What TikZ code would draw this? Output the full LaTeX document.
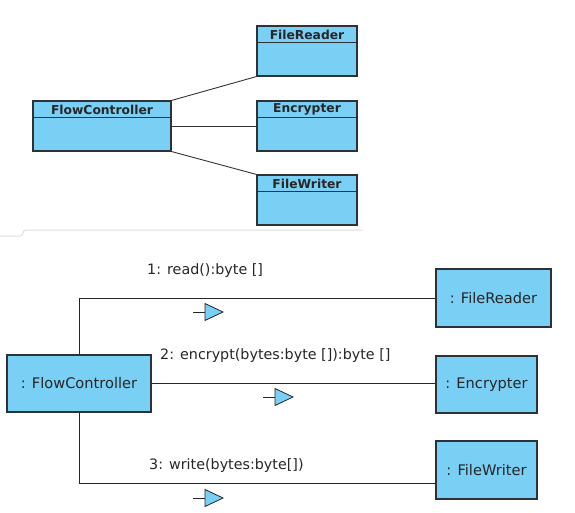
\documentclass[tikz,border=0pt]{standalone}
\usepackage{fontspec}
\setmainfont{DejaVu Sans}
\usetikzlibrary{calc}
\definecolor{boxblue}{RGB}{122,207,245}
\definecolor{boxline}{RGB}{45,50,55}
\definecolor{sepgray}{RGB}{222,222,222}
\tikzset{
  classbox/.style={draw=boxline, fill=boxblue, line width=1.1pt, inner sep=0pt},
  classtitle/.style={font=\fontsize{12.3}{14}\selectfont\bfseries, inner sep=0pt, text=black!85},
  objbox/.style={draw=boxline, fill=boxblue, line width=1.1pt, inner sep=0pt, font=\fontsize{14.6}{17}\selectfont, text=black!85},
  msglabel/.style={font=\fontsize{14.3}{16}\selectfont, inner sep=0pt, text=black!85},
  assoc/.style={draw=black!80, line width=0.9pt},
  link/.style={draw=black!85, line width=0.9pt},
  msgtri/.style={draw=black!85, fill=boxblue, line width=0.8pt, line join=miter},
  msgstem/.style={draw=black!85, line width=0.8pt}
}
\newcommand{\msgarrow}[2]{%
  \draw[msgstem] (#1,#2) -- ++(12,0);
  \draw[msgtri] (#1+12,#2-8.5) -- (#1+30,#2) -- (#1+12,#2+8.5) -- cycle;}
\begin{document}
\begin{tikzpicture}[x=1pt,y=-1pt]
\useasboundingbox (0,0) rectangle (575,513);
% ---------- class diagram ----------
\node[classbox, minimum width=100, minimum height=50] (cFR) at (307,51) {};
\node[classbox, minimum width=138, minimum height=50] (cFC) at (102,126) {};
\node[classbox, minimum width=100, minimum height=50] (cEN) at (307,126) {};
\node[classbox, minimum width=100, minimum height=50] (cFW) at (307,200) {};
\foreach \n/\t in {cFR/FileReader, cFC/FlowController, cEN/Encrypter, cFW/FileWriter}{
  \draw[boxline, line width=1pt] ($(\n.north west)+(0,17.5)$) -- ($(\n.north east)+(0,17.5)$);
  \node[classtitle] (\n t) at ($(\n.north)+(0,9)$) {\t};
}
\draw[assoc] (cFC.north east) -- (cFR.south west);
\draw[assoc] (cFC.east) -- (cEN.west);
\draw[assoc] (cFC.south east) -- (cFW.north west);
% separator
\draw[sepgray, line width=1pt, rounded corners=3pt] (0,236) -- (23,236) -- (23,230) -- (363,230);
% ---------- communication diagram ----------
\node[objbox, minimum width=115, minimum height=58] (oFR) at (493.5,298) {: FileReader};
\node[objbox, minimum width=101, minimum height=57] (oEN) at (486.5,384.5) {: Encrypter};
\node[objbox, minimum width=101, minimum height=58] (oFW) at (486.5,470) {: FileWriter};
\node[objbox, minimum width=144, minimum height=57] (oFC) at (79,383.5) {: FlowController};
\coordinate (w3) at (436,483);
\draw[link] (oFC.north) |- (oFR.west);
\draw[link] (oFC.east) -- (oEN.west |- oFC.east);
\draw[link] (oFC.south) |- (w3);
\node[msglabel, anchor=west] (m1) at (147,271) {1: read():byte []};
\node[msglabel, anchor=west] (m2) at (160,356) {2: encrypt(bytes:byte []):byte []};
\node[msglabel, anchor=west] (m3) at (149,466) {3: write(bytes:byte[])};
\msgarrow{193}{312}
\msgarrow{263}{397}
\msgarrow{193}{498}
\end{tikzpicture}
\end{document}
